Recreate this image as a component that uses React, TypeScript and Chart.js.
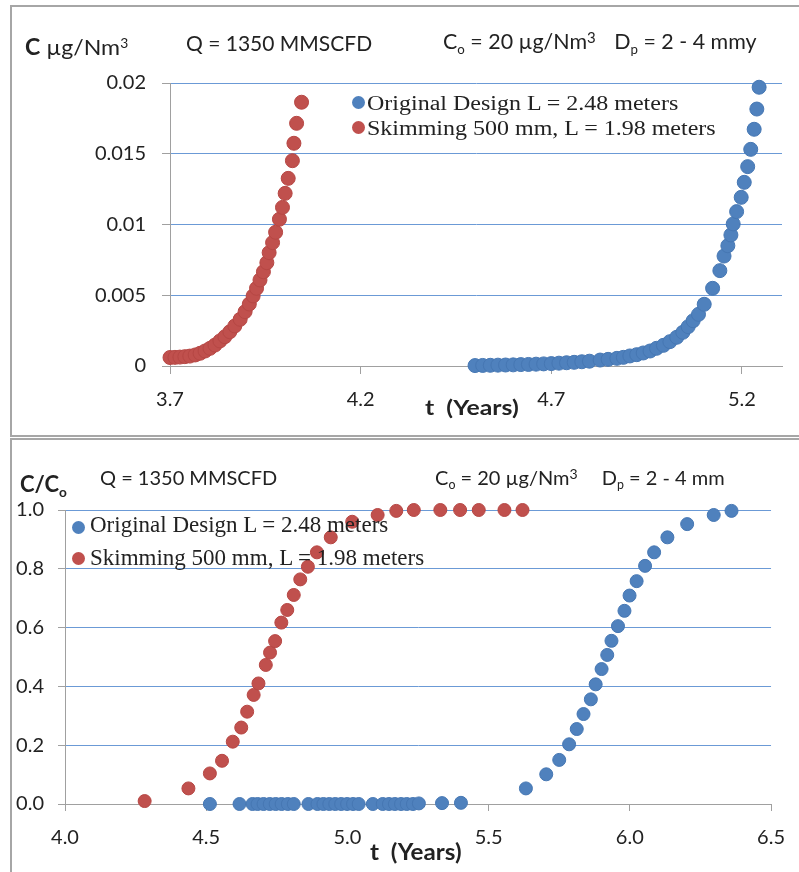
import React, { useEffect, useRef } from "react";
import { Chart, registerables } from "chart.js";

Chart.register(...registerables);

// ---------------- DATA ----------------
const seriesNames = ["Original Design L = 2.48 meters", "Skimming 500 mm, L = 1.98 meters"];

// Top chart: C (µg/Nm3) vs t (years)
const topOrigT = [4.50, 4.52, 4.54, 4.56, 4.58, 4.60, 4.62, 4.64, 4.66, 4.68, 4.70, 4.72, 4.74, 4.76, 4.78, 4.80, 4.828, 4.849, 4.872, 4.889, 4.906, 4.924, 4.941, 4.959, 4.976, 4.994, 5.011, 5.029, 5.045, 5.059, 5.072, 5.086, 5.101, 5.123, 5.142, 5.153, 5.163, 5.171, 5.177, 5.186, 5.198, 5.206, 5.215, 5.223, 5.232, 5.239, 5.245];
const topOrigC = [0.00003, 0.00004, 0.00005, 0.00006, 0.00007, 0.00008, 0.0001, 0.00011, 0.00013, 0.00015, 0.00017, 0.0002, 0.00023, 0.00026, 0.0003, 0.00034, 0.00042, 0.00047, 0.00054, 0.00061, 0.00071, 0.0008, 0.00092, 0.00106, 0.00125, 0.00146, 0.00172, 0.00203, 0.00238, 0.00278, 0.0032, 0.00365, 0.00436, 0.00549, 0.00674, 0.00777, 0.0085, 0.00926, 0.01004, 0.01091, 0.01192, 0.01298, 0.01409, 0.01531, 0.01673, 0.01816, 0.0197];
const topSkimT = [3.700, 3.713, 3.726, 3.739, 3.752, 3.766, 3.779, 3.792, 3.805, 3.818, 3.831, 3.844, 3.857, 3.870, 3.884, 3.897, 3.908, 3.918, 3.927, 3.936, 3.945, 3.954, 3.960, 3.969, 3.977, 3.987, 3.995, 4.002, 4.010, 4.021, 4.025, 4.032, 4.045];
const topSkimC = [0.0006, 0.00061, 0.00063, 0.00066, 0.0007, 0.00078, 0.0009, 0.00106, 0.00125, 0.00148, 0.00177, 0.00207, 0.00242, 0.00283, 0.0033, 0.00384, 0.00438, 0.00495, 0.00549, 0.00608, 0.00666, 0.0073, 0.00801, 0.00872, 0.00945, 0.01037, 0.01121, 0.0122, 0.01326, 0.01451, 0.01574, 0.01715, 0.01864];

const topTickX = [3.7, 4.2, 4.7, 5.2];
const topTickXLabels = ["3.7", "4.2", "4.7", "5.2"];
const topTickY = [0, 0.005, 0.01, 0.015, 0.02];
const topTickYLabels = ["0", "0.005", "0.01", "0.015", "0.02"];

// Bottom chart: C/Co vs t (years)
const botOrigT = [4.513, 4.618, 4.664, 4.682, 4.703, 4.725, 4.746, 4.767, 4.789, 4.81, 4.862, 4.894, 4.915, 4.936, 4.957, 4.978, 4.999, 5.02, 5.04, 5.09, 5.125, 5.147, 5.168, 5.19, 5.21, 5.232, 5.253, 5.335, 5.402, 5.632, 5.704, 5.75, 5.785, 5.812, 5.836, 5.862, 5.879, 5.9, 5.92, 5.935, 5.958, 5.981, 5.999, 6.024, 6.054, 6.086, 6.133, 6.203, 6.297, 6.36];
const botOrigR = [0, 0, 0, 0, 0, 0, 0, 0, 0, 0, 0, 0, 0, 0, 0, 0, 0, 0, 0, 0, 0, 0, 0, 0, 0, 0, 0.002, 0.003, 0.004, 0.053, 0.101, 0.15, 0.203, 0.255, 0.306, 0.356, 0.407, 0.459, 0.507, 0.555, 0.605, 0.657, 0.709, 0.758, 0.81, 0.856, 0.907, 0.952, 0.983, 0.997];
const botSkimT = [4.282, 4.437, 4.513, 4.556, 4.594, 4.624, 4.645, 4.668, 4.685, 4.711, 4.726, 4.744, 4.766, 4.787, 4.81, 4.833, 4.86, 4.892, 4.941, 5.017, 5.107, 5.173, 5.235, 5.329, 5.399, 5.465, 5.556, 5.62];
const botSkimR = [0.01, 0.053, 0.104, 0.147, 0.212, 0.26, 0.314, 0.371, 0.41, 0.473, 0.515, 0.554, 0.617, 0.66, 0.711, 0.764, 0.807, 0.856, 0.907, 0.96, 0.983, 0.997, 1.0, 1.0, 1.0, 1.0, 1.0, 1.0];

const botTickX = [4.0, 4.5, 5.0, 5.5, 6.0, 6.5];
const botTickXLabels = ["4.0", "4.5", "5.0", "5.5", "6.0", "6.5"];
const botTickY = [0, 0.2, 0.4, 0.6, 0.8, 1.0];
const botTickYLabels = ["0.0", "0.2", "0.4", "0.6", "0.8", "1.0"];

// ---------------- STYLE ----------------
const BLUE = "#4F81BD";
const BLUE_EDGE = "#4677b3";
const RED = "#C0504D";
const RED_EDGE = "#b64744";
const GRID = "#6b9ad6";
const AXIS = "#a0a0a0";
const SANS = "Lato, 'Open Sans', sans-serif";
const SERIF = "'Liberation Serif', 'DejaVu Serif', serif";
const INK = "#222";

type Geom = {
  r: number;
  padT: number; padR: number; padB: number;
  yW: number; xH: number;
  xTL: number; xPad: number; yTL: number; yPad: number;
  font: number;
  xMin: number; xMax: number; yMin: number; yMax: number;
  xTicks: number[]; xLabels: string[]; yTicks: number[]; yLabels: string[];
};

function build(canvas: HTMLCanvasElement, series: { t: number[]; v: number[]; fill: string; edge: string; label: string }[], g: Geom) {
  return new Chart(canvas, {
    type: "scatter",
    data: {
      datasets: series.map((s) => ({
        label: s.label,
        data: s.t.map((t, i) => ({ x: t, y: s.v[i] })),
        backgroundColor: s.fill,
        borderColor: s.edge,
        borderWidth: 1,
        pointRadius: g.r,
        pointHoverRadius: g.r,
        clip: false as any,
      })),
    },
    options: {
      responsive: false,
      animation: false,
      events: [],
      layout: { padding: { left: 0, right: g.padR, top: g.padT, bottom: g.padB } },
      plugins: { legend: { display: false }, tooltip: { enabled: false }, title: { display: false } },
      scales: {
        x: {
          type: "linear",
          min: g.xMin,
          max: g.xMax,
          afterBuildTicks: (s: any) => {
            s.ticks = g.xTicks.map((v) => ({ value: v }));
          },
          afterFit: (s: any) => {
            s.height = g.xH;
          },
          grid: { drawOnChartArea: false, drawTicks: true, tickLength: g.xTL, tickColor: AXIS, color: AXIS },
          border: { display: true, color: AXIS, width: 1 },
          ticks: {
            autoSkip: false,
            maxRotation: 0,
            padding: g.xPad,
            color: INK,
            font: { family: SANS, size: g.font },
            callback: (_v: any, i: number) => g.xLabels[i],
          },
        },
        y: {
          type: "linear",
          min: g.yMin,
          max: g.yMax,
          afterBuildTicks: (s: any) => {
            s.ticks = g.yTicks.map((v) => ({ value: v }));
          },
          afterFit: (s: any) => {
            s.width = g.yW;
          },
          grid: {
            drawTicks: true,
            tickLength: g.yTL,
            tickColor: AXIS,
            color: (ctx: any) => (ctx.tick && ctx.tick.value === 0 ? AXIS : GRID),
            lineWidth: 1,
          },
          border: { display: true, color: AXIS, width: 1 },
          ticks: {
            autoSkip: false,
            padding: g.yPad,
            color: INK,
            font: { family: SANS, size: g.font },
            callback: (_v: any, i: number) => g.yLabels[i],
          },
        },
      },
    },
  } as any);
}

const abs = (left: number, top: number, extra: React.CSSProperties = {}, sx = 1): React.CSSProperties => ({
  position: "absolute",
  left,
  top,
  lineHeight: 1,
  whiteSpace: "nowrap",
  color: INK,
  transform: sx !== 1 ? `scaleX(${sx})` : undefined,
  transformOrigin: "left center",
  ...extra,
});

const sub: React.CSSProperties = { fontSize: "0.62em", position: "relative", top: "0.35em" };
const sup: React.CSSProperties = { fontSize: "0.7em", position: "relative", top: "-0.4em" };

function Dot({ x, y, color, d }: { x: number; y: number; color: string; d: number }) {
  return (
    <div
      style={{
        position: "absolute",
        left: x - d / 2,
        top: y - d / 2,
        width: d,
        height: d,
        borderRadius: "50%",
        background: color,
      }}
    />
  );
}

export default function App() {
  const topRef = useRef<HTMLCanvasElement>(null);
  const botRef = useRef<HTMLCanvasElement>(null);

  useEffect(() => {
    const c1 = build(
      topRef.current!,
      [
        { t: topOrigT, v: topOrigC, fill: BLUE, edge: BLUE_EDGE, label: seriesNames[0] },
        { t: topSkimT, v: topSkimC, fill: RED, edge: RED_EDGE, label: seriesNames[1] },
      ],
      {
        r: 7,
        padT: 78, padR: 18, padB: 31,
        yW: 160, xH: 40,
        xTL: 8, xPad: 14, yTL: 8, yPad: 16,
        font: 20,
        xMin: 3.7, xMax: 5.305, yMin: 0, yMax: 0.02,
        xTicks: topTickX, xLabels: topTickXLabels, yTicks: topTickY, yLabels: topTickYLabels,
      }
    );
    const c2 = build(
      botRef.current!,
      [
        { t: botOrigT, v: botOrigR, fill: BLUE, edge: BLUE_EDGE, label: seriesNames[0] },
        { t: botSkimT, v: botSkimR, fill: RED, edge: RED_EDGE, label: seriesNames[1] },
      ],
      {
        r: 6.5,
        padT: 73, padR: 20, padB: 29,
        yW: 55, xH: 40,
        xTL: 7, xPad: 15, yTL: 7, yPad: 14,
        font: 20,
        xMin: 4.0, xMax: 6.5, yMin: 0, yMax: 1.0,
        xTicks: botTickX, xLabels: botTickXLabels, yTicks: botTickY, yLabels: botTickYLabels,
      }
    );
    return () => {
      c1.destroy();
      c2.destroy();
    };
  }, []);

  return (
    <div style={{ position: "fixed", left: 0, top: 0, width: 799, height: 872, background: "#fff", overflow: "hidden" }}>
      {/* frames */}
      <div style={{ position: "absolute", left: 10, top: 5, width: 800, height: 432, border: "2px solid #a6a6a6", boxSizing: "border-box" }} />
      <div style={{ position: "absolute", left: 10, top: 438, width: 800, height: 442, border: "2px solid #a6a6a6", boxSizing: "border-box" }} />

      {/* canvases */}
      <canvas ref={topRef} width={790} height={432} style={{ position: "absolute", left: 10, top: 5, width: 790, height: 432 }} />
      <canvas ref={botRef} width={790} height={436} style={{ position: "absolute", left: 10, top: 437, width: 790, height: 436 }} />

      {/* ---- top chart texts ---- */}
      <div style={abs(25, 36, { fontFamily: SANS, fontSize: 22 }, 1.05)}>
        <b>C</b> µg/Nm<span style={{ fontSize: "0.6em", position: "relative", top: "-0.5em" }}>3</span>
      </div>
      <div style={abs(186, 32, { fontFamily: SANS, fontSize: 21 })}>Q = 1350 MMSCFD</div>
      <div style={abs(443, 30, { fontFamily: SANS, fontSize: 21 }, 1.02)}>
        C<span style={sub}>o</span> = 20 µg/Nm<span style={sup}>3</span>
        <span style={{ marginLeft: 18 }}>
          D<span style={sub}>p</span> = 2 - 4 mmy
        </span>
      </div>
      <div style={abs(425, 396, { fontFamily: SANS, fontSize: 21, fontWeight: 700 }, 1.18)}>t&nbsp; (Years)</div>

      <Dot x={358} y={102} color={BLUE} d={13} />
      <Dot x={358} y={127} color={RED} d={13} />
      <div style={abs(367, 93, { fontFamily: SERIF, fontSize: 20 }, 1.2)}>{seriesNames[0]}</div>
      <div style={abs(367, 118, { fontFamily: SERIF, fontSize: 20 }, 1.2)}>{seriesNames[1]}</div>

      {/* ---- bottom chart texts ---- */}
      <div style={abs(20, 473, { fontFamily: SANS, fontSize: 22, fontWeight: 700 })}>
        C/C<span style={sub}>o</span>
      </div>
      <div style={abs(100, 467, { fontFamily: SANS, fontSize: 20 })}>Q = 1350 MMSCFD</div>
      <div style={abs(435, 467, { fontFamily: SANS, fontSize: 20 })}>
        C<span style={sub}>o</span> = 20 µg/Nm<span style={sup}>3</span>
        <span style={{ marginLeft: 24 }}>
          D<span style={sub}>p</span> = 2 - 4 mm
        </span>
      </div>
      <div style={abs(370, 841, { fontFamily: SANS, fontSize: 22, fontWeight: 700 }, 1.1)}>t&nbsp; (Years)</div>

      <Dot x={78} y={527} color={BLUE} d={13} />
      <Dot x={78} y={558} color={RED} d={13} />
      <div style={abs(90, 513, { fontFamily: SERIF, fontSize: 23 })}>{seriesNames[0]}</div>
      <div style={abs(90, 546, { fontFamily: SERIF, fontSize: 23 })}>{seriesNames[1]}</div>
    </div>
  );
}
